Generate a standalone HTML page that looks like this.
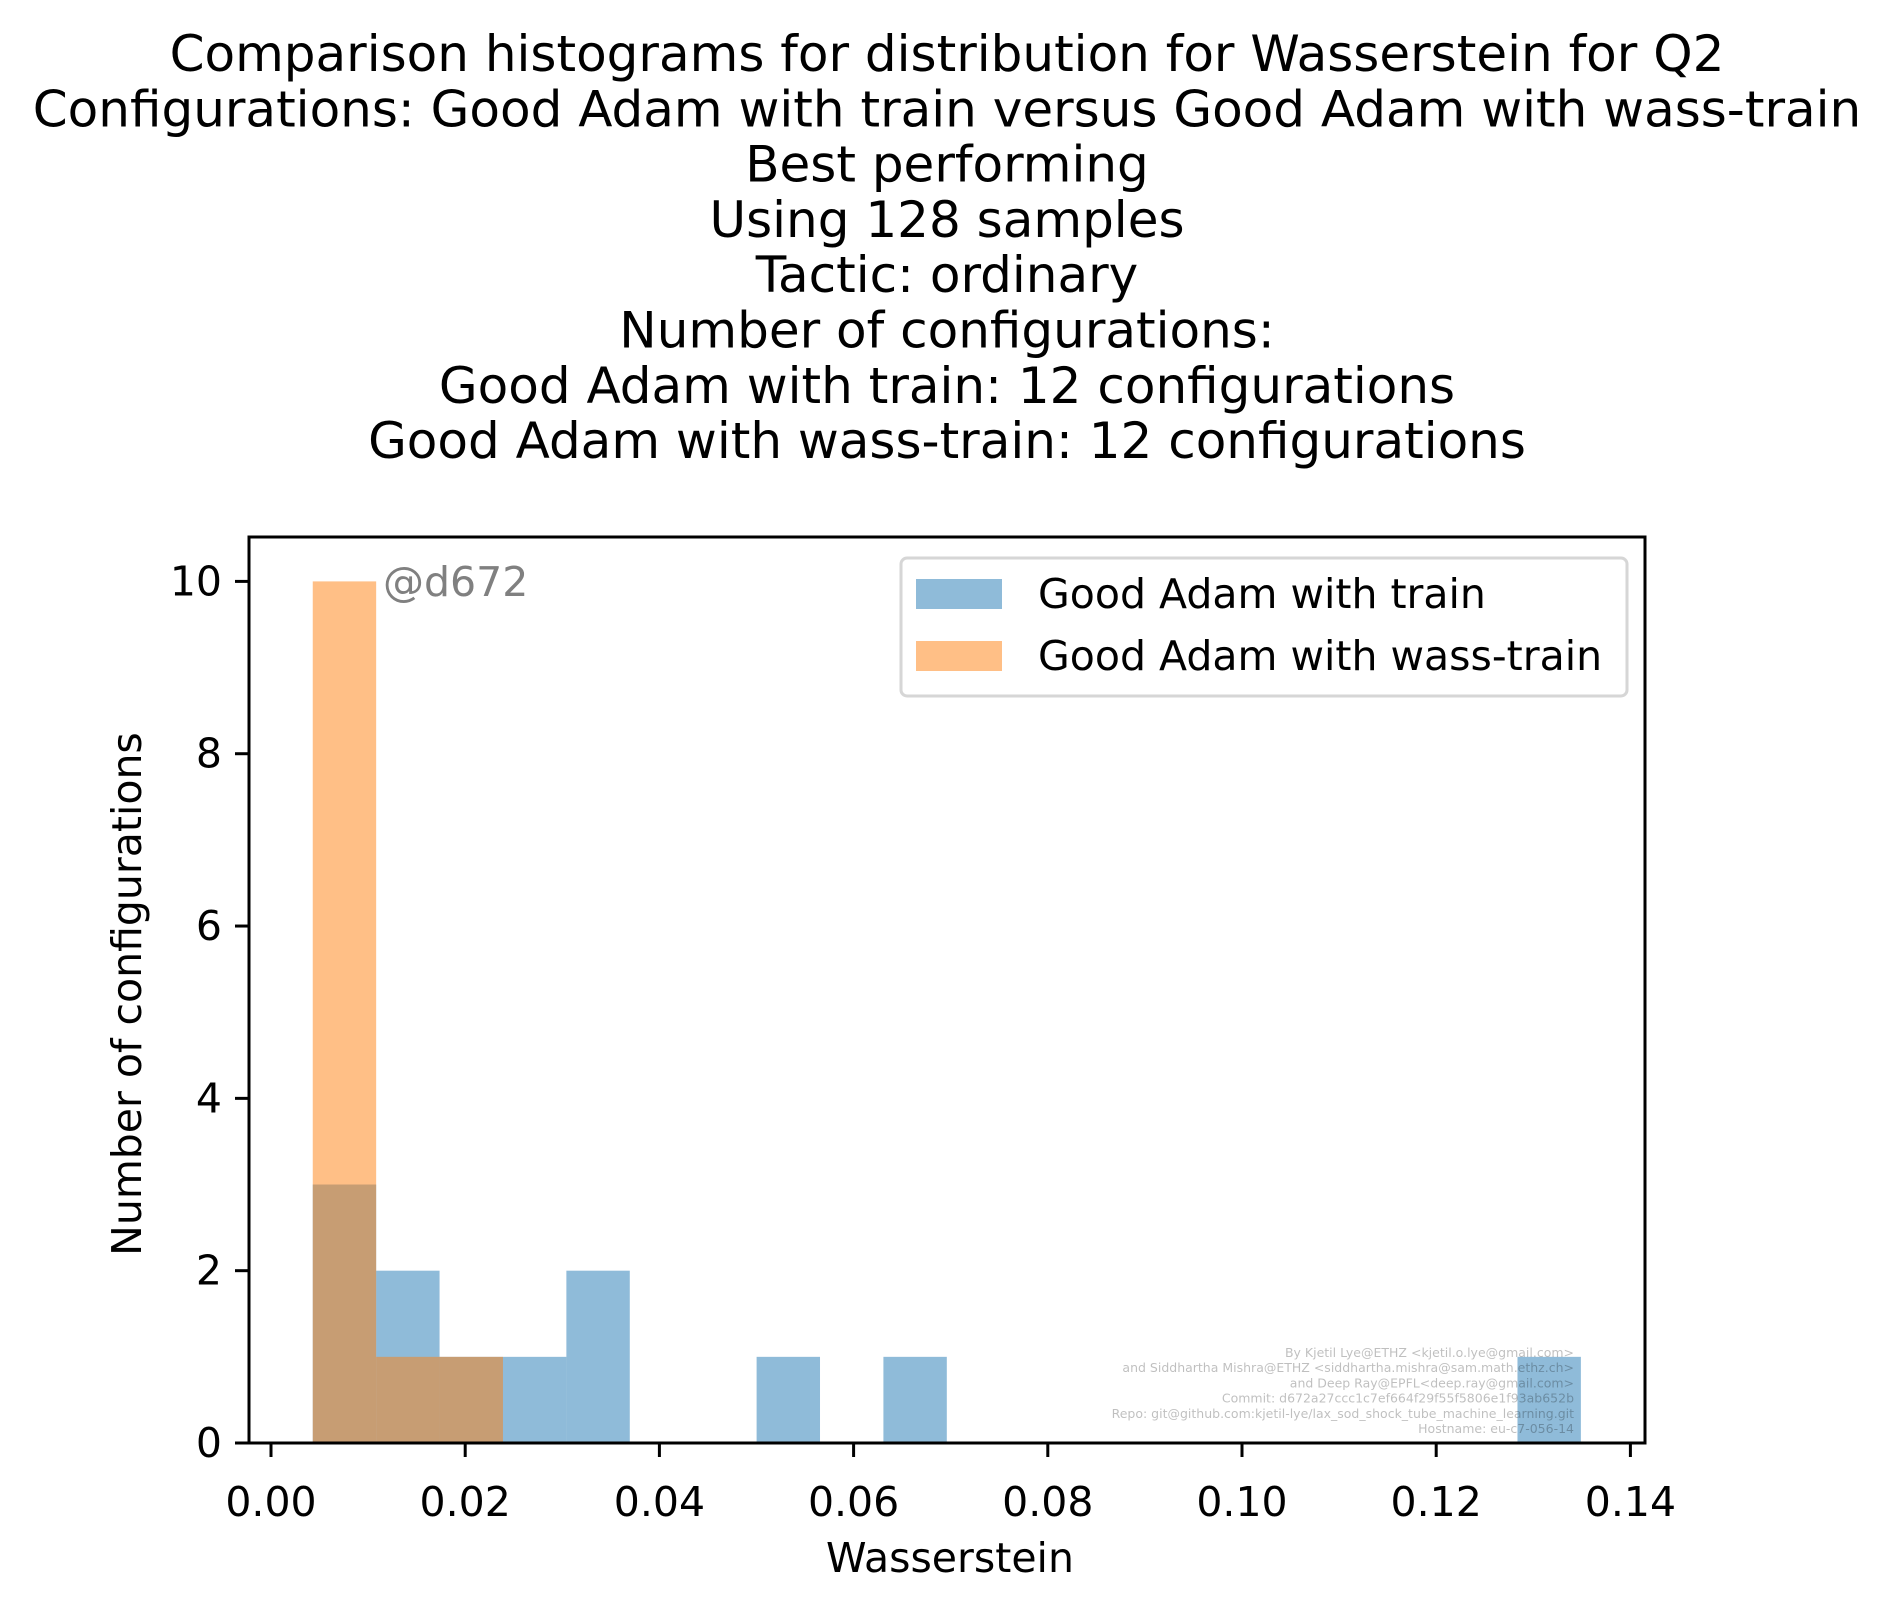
<!DOCTYPE html>
<html><head><meta charset="utf-8"><style>
html,body{margin:0;padding:0;background:#fff;}
svg{display:block;font-family:"DejaVu Sans","Liberation Sans",sans-serif;}
</style></head><body>
<svg id="chart" width="1892" height="1603" viewBox="0 0 1892 1603" xmlns="http://www.w3.org/2000/svg">
<g id="title" font-size="50" text-anchor="middle" fill="#000"></g>
<g id="bars"></g>
<g id="axes"></g>
</svg>
<script>
const binStart = 0.0043;
const binWidth = 0.00653;
const blueCounts = [3,2,1,1,2,0,0,1,0,1,0,0,0,0,0,0,0,0,0,1];
const orangeCounts = [10,1,1,0,0,0,0,0,0,0,0,0,0,0,0,0,0,0,0,0];
const xTicks = [0,0.02,0.04,0.06,0.08,0.10,0.12,0.14];
const xTickLabels = ["0.00","0.02","0.04","0.06","0.08","0.10","0.12","0.14"];
const yTicks = [0,2,4,6,8,10];
const titleLines = ["Comparison histograms for distribution for Wasserstein for Q2","Configurations: Good Adam with train versus Good Adam with wass-train","Best performing","Using 128 samples","Tactic: ordinary","Number of configurations:","Good Adam with train: 12 configurations","Good Adam with wass-train: 12 configurations"];

const NS="http://www.w3.org/2000/svg";
const L=249,R=1645,T=537,B=1443;
const X=v=>271+v*9710;
const Y=v=>B-v*86.16;
function mk(tag,attrs,parent,text){const e=document.createElementNS(NS,tag);for(const k in attrs)e.setAttribute(k,attrs[k]);if(text!==undefined)e.textContent=text;parent.appendChild(e);return e;}
const svg=document.getElementById('chart');
const tg=document.getElementById('title');
titleLines.forEach((t,i)=>{const e=mk('text',{x:947,y:54+i*55.3,'dominant-baseline':'central'},tg,t);

});
const bars=document.getElementById('bars');
function drawSeries(counts,color,name){counts.forEach((c,i)=>{if(c<=0)return;
const x0=X(binStart+i*binWidth),x1=X(binStart+(i+1)*binWidth);
const r=mk('rect',{x:x0,y:Y(c),width:x1-x0,height:Y(0)-Y(c),fill:color,'fill-opacity':0.5},bars);

});}
drawSeries(blueCounts,'#1f77b4','train');
drawSeries(orangeCounts,'#ff7f0e','wass-train');
const ax=document.getElementById('axes');
const credits=["By Kjetil Lye@ETHZ <kjetil.o.lye@gmail.com>","and Siddhartha Mishra@ETHZ <siddhartha.mishra@sam.math.ethz.ch>","and Deep Ray@EPFL<deep.ray@gmail.com>","Commit: d672a27ccc1c7ef664f29f55f5806e1f93ab652b","Repo: git@github.com:kjetil-lye/lax_sod_shock_tube_machine_learning.git","Hostname: eu-c7-056-14"];
const cg=mk('g',{'font-size':12.5,fill:'#000','fill-opacity':0.25,'text-anchor':'end'},ax);


credits.forEach((c,i)=>{mk('text',{x:1574,y:1357+i*15.2},cg,c);});
mk('rect',{x:L,y:T,width:R-L,height:B-T,fill:'none',stroke:'#000','stroke-width':3},ax);
xTicks.forEach((v,i)=>{mk('line',{x1:X(v),x2:X(v),y1:B,y2:B+14,stroke:'#000','stroke-width':3},ax);
const t=mk('text',{x:X(v),y:1502,'font-size':41,'text-anchor':'middle','dominant-baseline':'central'},ax,xTickLabels[i]);

});
yTicks.forEach(v=>{mk('line',{x1:L,x2:L-14,y1:Y(v),y2:Y(v),stroke:'#000','stroke-width':3},ax);
const t=mk('text',{x:222,y:Y(v),'font-size':41,'text-anchor':'end','dominant-baseline':'central'},ax,String(v));

});
const xl=mk('text',{x:950,y:1558,'font-size':41,'text-anchor':'middle','dominant-baseline':'central'},ax,'Wasserstein');


const yl=mk('text',{x:127,y:994,'font-size':41,'text-anchor':'middle','dominant-baseline':'central',transform:'rotate(-90 127 994)'},ax,'Number of configurations');


const an=mk('text',{x:383,y:582,'font-size':41,fill:'#808080','dominant-baseline':'central'},ax,'@d672');


const lg=mk('g',{},ax);


mk('rect',{x:901,y:558,width:726,height:138,rx:6,fill:'#fff','fill-opacity':0.8,stroke:'#d6d6d6','stroke-width':3},lg);
const le=[['Good Adam with train','#1f77b4',579],['Good Adam with wass-train','#ff7f0e',641]];
le.forEach(([t,c,y])=>{const g=mk('g',{},lg);


mk('rect',{x:916,y:y,width:86,height:30,fill:c,'fill-opacity':0.5},g);
mk('text',{x:1038,y:y+15,'font-size':41,'dominant-baseline':'central'},g,t);});
</script>
</body></html>
